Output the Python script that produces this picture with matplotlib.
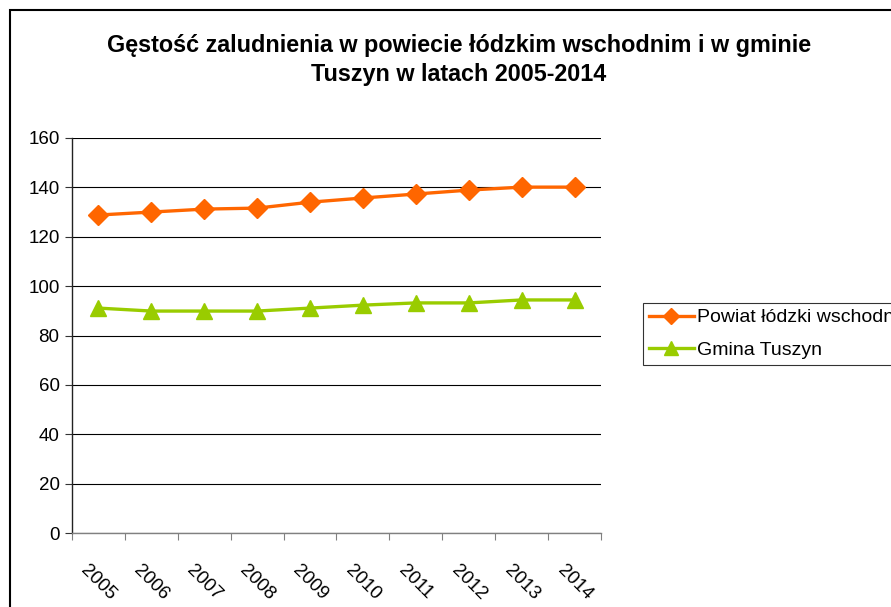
import matplotlib
matplotlib.use("Agg")
import matplotlib.pyplot as plt
from matplotlib.patches import Rectangle

plt.rcParams['font.family'] = ['Liberation Sans', 'DejaVu Sans']

years = ['2005', '2006', '2007', '2008', '2009', '2010', '2011', '2012', '2013', '2014']
powiat = [128.8, 130.0, 131.2, 131.6, 134.0, 135.7, 137.3, 138.9, 140.1, 140.1]
tuszyn = [91.1, 89.9, 89.9, 89.9, 91.1, 92.3, 93.2, 93.2, 94.4, 94.4]
series_names = ['Powiat łódzki wschodni', 'Gmina Tuszyn']
title = 'Gęstość zaludnienia w powiecie łódzkim wschodnim i w gminie\nTuszyn w latach 2005-2014'

W, H = 891, 607
fig = plt.figure(figsize=(W / 100, H / 100), dpi=100)
fig.patches.append(Rectangle((10 / W, -0.1), 1.2, 1 - 10 / H + 0.1, transform=fig.transFigure,
                             fill=False, edgecolor='black', linewidth=1.5))

ax = fig.add_axes([72 / W, 1 - 533 / H, (601 - 72) / W, (533 - 138) / H])
x = list(range(len(years)))
ax.plot(x, powiat, color='#FF6600', linewidth=2.4, marker='D', markersize=10, label=series_names[0])
ax.plot(x, tuszyn, color='#99CC00', linewidth=2.4, marker='^', markersize=12, label=series_names[1])

ax.set_xlim(-0.5, len(years) - 0.5)
ax.set_ylim(0, 160)
ax.set_yticks(range(0, 161, 20))
ax.yaxis.grid(True, color='black', linewidth=0.8)
ax.set_axisbelow(True)
ax.tick_params(axis='y', labelsize=13.5, length=5, width=0.8, color='#333333', pad=4)

ax.set_xticks([i - 0.5 for i in range(len(years) + 1)])
ax.set_xticklabels([])
ax.set_xticks(x, minor=True)
ax.set_xticklabels(years, minor=True, rotation=-45, ha='center', va='top', fontsize=13.5)
ax.tick_params(axis='x', which='major', length=5, width=0.8, color='#808080')
ax.tick_params(axis='x', which='minor', length=0, pad=21)

for s in ['top', 'right']:
    ax.spines[s].set_visible(False)
ax.spines['left'].set_color('#222222')
ax.spines['left'].set_linewidth(1.0)
ax.spines['bottom'].set_color('#808080')
ax.spines['bottom'].set_linewidth(1.0)

fig.text(459 / W, 1 - 60 / H, title, ha='center', va='center', fontsize=16.8, fontweight='bold', linespacing=1.3)

leg = fig.legend(loc='upper left', bbox_to_anchor=(643 / W, 1 - 303 / H), fontsize=14,
                 frameon=True, fancybox=False, edgecolor='black', handlelength=2.3,
                 borderpad=0.3, labelspacing=0.78, handletextpad=0.2, borderaxespad=0,
                 markerscale=0.8)
leg.get_frame().set_linewidth(0.8)

fig.savefig('out.png', dpi=100)
